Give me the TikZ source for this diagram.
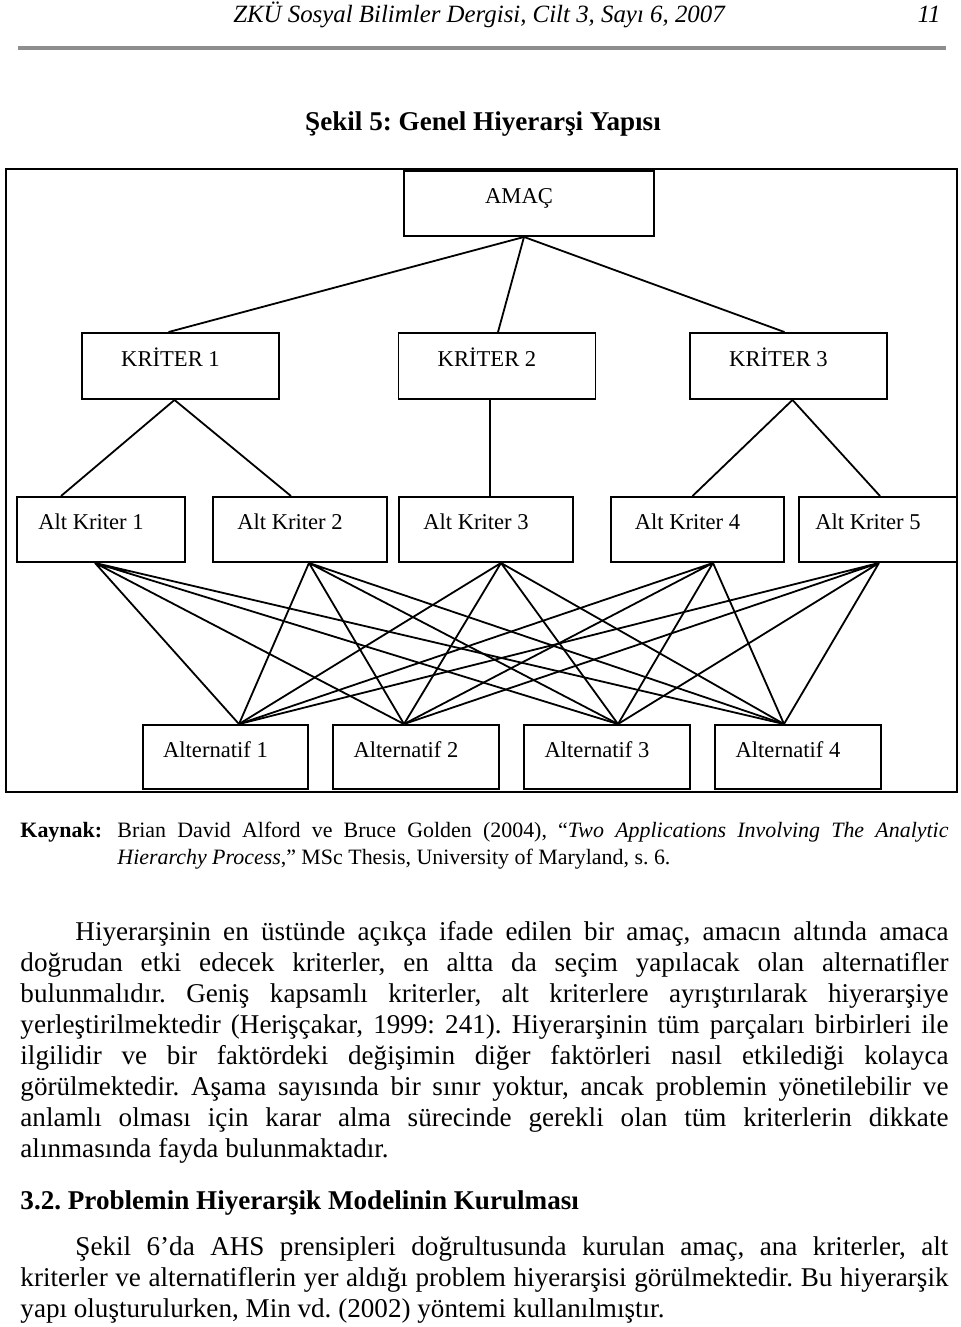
\documentclass[tikz,border=0pt]{standalone}
\usepackage{fontspec}
\setmainfont{Liberation Serif}
\usepackage{xcolor}
\usepackage{tikz}
\usetikzlibrary{calc}
\definecolor{border}{HTML}{000000}
\definecolor{rulegray}{HTML}{8E8E8E}
\newlength{\pxu}
\setlength{\pxu}{0.4425pt}
\hyphenpenalty=10000
\tolerance=9999
\frenchspacing

\begin{document}
\begin{tikzpicture}[x=0.4425pt, y=-0.4425pt,
  kutu/.style 2 args={draw=border, line width=0.85pt, inner sep=0pt,
    minimum width=#1\pxu, minimum height=#2\pxu,
    text height=6pt, text depth=5.6pt, font=\fontsize{10}{12}\selectfont,
    execute at begin node={\hspace*{-20\pxu}}},
  bag/.style={draw=border, line width=0.8pt},
  yazi/.style={inner sep=0pt}]
  \fill[white] (0,0) rectangle (960,1327);
  \useasboundingbox (0,0) rectangle (960,1327);

  % ust bilgi
  \node[yazi, anchor=base, font=\fontsize{11}{13}\selectfont\itshape] (baslik) at (479,22)
    {ZKÜ Sosyal Bilimler Dergisi, Cilt 3, Sayı 6, 2007};
  \node[yazi, anchor=base east, font=\fontsize{11}{13}\selectfont\itshape] (sayfa) at (941,22) {11};
  \draw[rulegray, line width=1.5pt] (18,48) -- (946,48);
  \node[yazi, anchor=base, font=\fontsize{12}{14}\selectfont\bfseries] (sekil) at (483,130)
    {Şekil 5: Genel Hiyerarşi Yapısı};

  % cerceve
  \draw[border, line width=0.95pt] (6,169) rectangle (957,792);

  \node[kutu={250}{65}] (amac) at (529,203.5) {AMAÇ};
  \node[kutu={197}{66}] (kr1) at (180.5,366) {KRİTER 1};
  \node[kutu={197}{66}] (kr2) at (497,366) {KRİTER 2};
  \node[kutu={197}{66}] (kr3) at (788.5,366) {KRİTER 3};

  \node[kutu={168}{65}] (akr1) at (101,529.5) {Alt Kriter 1};
  \node[kutu={174}{65}] (akr2) at (300,529.5) {Alt Kriter 2};
  \node[kutu={174}{65}] (akr3) at (486,529.5) {Alt Kriter 3};
  \node[kutu={173}{65}] (akr4) at (697.5,529.5) {Alt Kriter 4};
  \node[kutu={158}{65}] (akr5) at (878,529.5) {Alt Kriter 5};

  \node[kutu={165}{64}] (alt1) at (225.5,757) {Alternatif 1};
  \node[kutu={166}{64}] (alt2) at (416,757) {Alternatif 2};
  \node[kutu={166}{64}] (alt3) at (607,757) {Alternatif 3};
  \node[kutu={166}{64}] (alt4) at (798,757) {Alternatif 4};

  \coordinate (A0) at ($(amac.south)+(-5,0)$);
  \coordinate (K1) at ($(kr1.south)+(-6,0)$);
  \coordinate (K2) at ($(kr2.south)+(-7,0)$);
  \coordinate (K3) at ($(kr3.south)+(4,0)$);
  \draw[bag] (A0) -- ($(kr1.north)+(-12,0)$);
  \draw[bag] (A0) -- ($(kr2.north)+(1,0)$);
  \draw[bag] (A0) -- ($(kr3.north)+(-4,0)$);
  \draw[bag] (K1) -- ($(akr1.north)+(-40,0)$);
  \draw[bag] (K1) -- ($(akr2.north)+(-9,0)$);
  \draw[bag] (K2) -- ($(akr3.north)+(4,0)$);
  \draw[bag] (K3) -- ($(akr4.north)+(-5,0)$);
  \draw[bag] (K3) -- ($(akr5.north)+(2,0)$);

  \coordinate (B1) at ($(akr1.south)+(-6,0)$);
  \coordinate (B2) at ($(akr2.south)+(9,0)$);
  \coordinate (B3) at ($(akr3.south)+(15,0)$);
  \coordinate (B4) at ($(akr4.south)+(15.5,0)$);
  \coordinate (B5) at ($(akr5.south)+(1,0)$);
  \coordinate (T1) at ($(alt1.north)+(13.5,0)$);
  \coordinate (T2) at ($(alt2.north)+(-12,0)$);
  \coordinate (T3) at ($(alt3.north)+(11,0)$);
  \coordinate (T4) at ($(alt4.north)+(-14,0)$);
  \draw[bag] (B1) -- (T1) (B1) -- (T2) (B1) -- (T3) (B1) -- (T4);
  \draw[bag] (B2) -- (T1) (B2) -- (T2) (B2) -- (T3) (B2) -- (T4);
  \draw[bag] (B3) -- (T1) (B3) -- (T2) (B3) -- (T3) (B3) -- (T4);
  \draw[bag] (B4) -- (T1) (B4) -- (T2) (B4) -- (T3) (B4) -- (T4);
  \draw[bag] (B5) -- (T1) (B5) -- (T2) (B5) -- (T3) (B5) -- (T4);

  % kaynak
  \node[yazi, anchor=base west, font=\fontsize{9.7}{11.95}\selectfont\bfseries] (kaynak) at (20,837) {Kaynak:};
  \node[yazi, anchor=base west, text width=831\pxu, align=justify,
    font=\fontsize{9.7}{11.95}\selectfont] (kaynakmetin) at (117,837)
    {Brian David Alford ve Bruce Golden (2004), “\textit{Two Applications Involving The Analytic\linebreak
     Hierarchy Process},” MSc Thesis, University of Maryland, s. 6.};

  % metin
  \node[yazi, anchor=base west, text width=928\pxu, align=justify,
    font=\fontsize{12}{13.72}\selectfont] (paragraf1) at (20,940)
    {\hspace*{55\pxu}Hiyerarşinin en üstünde açıkça ifade edilen bir amaç, amacın altında amaca\linebreak
     doğrudan etki edecek kriterler, en altta da seçim yapılacak olan alternatifler\linebreak
     bulunmalıdır. Geniş kapsamlı kriterler, alt kriterlere ayrıştırılarak hiyerarşiye\linebreak
     yerleştirilmektedir (Herişçakar, 1999: 241). Hiyerarşinin tüm parçaları birbirleri ile\linebreak
     ilgilidir ve bir faktördeki değişimin diğer faktörleri nasıl etkilediği kolayca\linebreak
     görülmektedir. Aşama sayısında bir sınır yoktur, ancak problemin yönetilebilir ve\linebreak
     anlamlı olması için karar alma sürecinde gerekli olan tüm kriterlerin dikkate\linebreak
     alınmasında fayda bulunmaktadır.};

  \node[yazi, anchor=base west, font=\fontsize{12}{14}\selectfont\bfseries] (bolum) at (20,1209)
    {3.2. Problemin Hiyerarşik Modelinin Kurulması};

  \node[yazi, anchor=base west, text width=928\pxu, align=justify,
    font=\fontsize{12}{13.72}\selectfont] (paragraf2) at (20,1255)
    {\hspace*{55\pxu}Şekil 6’da AHS prensipleri doğrultusunda kurulan amaç, ana kriterler, alt\linebreak
     kriterler ve alternatiflerin yer aldığı problem hiyerarşisi görülmektedir. Bu hiyerarşik\linebreak
     yapı oluşturulurken, Min vd. (2002) yöntemi kullanılmıştır.};
\end{tikzpicture}
\end{document}
